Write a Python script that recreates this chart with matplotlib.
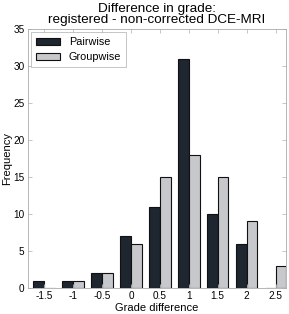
import numpy as np
import matplotlib
matplotlib.use("Agg")
import matplotlib.pyplot as plt

# grade differences and counts
grades = [-1.5, -1, -0.5, 0, 0.5, 1, 1.5, 2, 2.5]
tick_labels = ['-1.5', '-1', '-0.5', '0', '0.5', '1', '1.5', '2', '2.5']
pairwise = [1, 1, 2, 7, 11, 31, 10, 6, 0]
groupwise = [0, 1, 2, 6, 15, 18, 15, 9, 3]

plt.rcParams['font.family'] = ['Liberation Sans', 'DejaVu Sans']

fig = plt.figure(figsize=(2.89, 3.14), dpi=100)
ax = fig.add_axes([28 / 289, 26 / 314, 258 / 289, 259 / 314])

# two bars per grade: pairwise on the left, groupwise on the right
x = np.array(grades)
w = 0.185
ax.bar(x - w / 2, pairwise, width=w, color='#1e2630', edgecolor='#111111',
       linewidth=0.8, label='Pairwise')
ax.bar(x + w / 2, groupwise, width=w, color='#c6c8cc', edgecolor='#111111',
       linewidth=0.8, label='Groupwise')

ax.set_xlim(-1.78, 2.68)
ax.set_ylim(0, 35)
ax.set_xticks(grades)
ax.set_xticklabels(tick_labels)
ax.set_yticks([0, 5, 10, 15, 20, 25, 30, 35])
ax.tick_params(direction='in', length=3, width=0.6, color='#bbbbbb',
               labelsize=7.2, top=True, right=True, pad=2.5)
for s in ax.spines.values():
    s.set_color('#aaaaaa')
    s.set_linewidth(0.6)

ax.set_xlabel('Grade difference', fontsize=8, labelpad=1)
ax.set_ylabel('Frequency', fontsize=8, labelpad=1)
ax.set_title('Difference in grade:\nregistered - non-corrected DCE-MRI',
             fontsize=9.7, pad=4.5, linespacing=0.9)

leg = ax.legend(loc='upper left', fontsize=7.8, fancybox=False,
                handlelength=2.2, handleheight=0.65, borderpad=0.45,
                labelspacing=0.45, handletextpad=0.8, borderaxespad=0.3)
leg.get_frame().set_edgecolor('#aaaaaa')
leg.get_frame().set_linewidth(0.6)

fig.savefig('out.png', dpi=100)
